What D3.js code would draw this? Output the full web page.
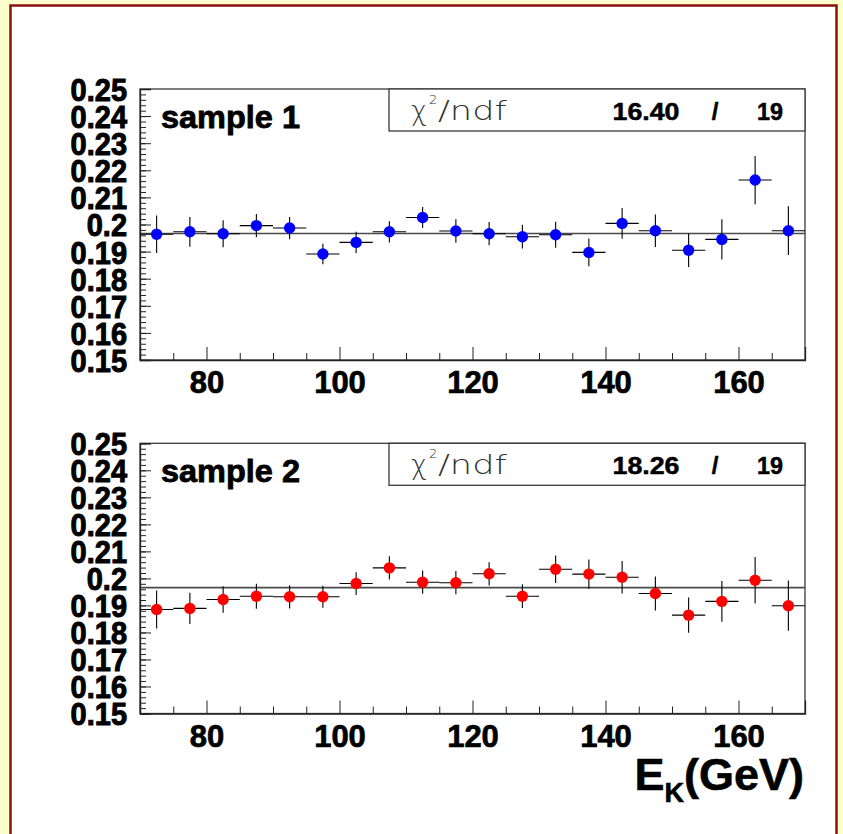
<!DOCTYPE html>
<html>
<head>
<meta charset="utf-8">
<script src="https://cdn.jsdelivr.net/npm/d3@7"></script>
<style>
  html, body { margin: 0; padding: 0; background: #ffffcc; }
  svg { display: block; }
  text { font-family: "Liberation Sans", Arial, Helvetica, sans-serif; }
</style>
</head>
<body>
<svg id="chart" width="843" height="834"></svg>
<script>
// ---------------- data ----------------
const binCenters = [72.5, 77.5, 82.5, 87.5, 92.5, 97.5, 102.5, 107.5, 112.5, 117.5,
                    122.5, 127.5, 132.5, 137.5, 142.5, 147.5, 152.5, 157.5, 162.5, 167.5];
const binHalfWidth = 2.5;

const sample1Values = [0.1964, 0.1973, 0.1966, 0.1996, 0.1987, 0.1891, 0.1934, 0.1973, 0.2026, 0.1976,
                       0.1966, 0.1955, 0.1962, 0.1897, 0.2004, 0.1977, 0.1905, 0.1945, 0.2164, 0.1977];
const sample1Errors = [0.0069, 0.0055, 0.0050, 0.0043, 0.0041, 0.0038, 0.0039, 0.0039, 0.0039, 0.0043,
                       0.0043, 0.0044, 0.0048, 0.0051, 0.0057, 0.0060, 0.0062, 0.0074, 0.0089, 0.0090];
const sample2Values = [0.1885, 0.1889, 0.1922, 0.1934, 0.1932, 0.1932, 0.1981, 0.2039, 0.1986, 0.1984,
                       0.2017, 0.1934, 0.2034, 0.2016, 0.2004, 0.1944, 0.1864, 0.1915, 0.1993, 0.1899];
const sample2Errors = [0.0070, 0.0058, 0.0049, 0.0046, 0.0043, 0.0041, 0.0042, 0.0043, 0.0043, 0.0043,
                       0.0043, 0.0044, 0.0051, 0.0054, 0.0060, 0.0063, 0.0065, 0.0075, 0.0086, 0.0093];
const fitValues = [0.1967, 0.1966];
const sampleNames = ["sample 1", "sample 2"];
const chi2Values = ["16.40", "18.26"];
const ndfValues = ["19", "19"];
const markerColors = ["#0000ff", "#ff0000"];

const xDomain = [70, 170];
const yDomain = [0.15, 0.25];
const xMajorTicks = [80, 100, 120, 140, 160];
const xMinorTicks = [75, 85, 90, 95, 105, 110, 115, 125, 130, 135, 145, 150, 155, 165];
const yMajorTicks = [0.15, 0.16, 0.17, 0.18, 0.19, 0.2, 0.21, 0.22, 0.23, 0.24, 0.25];
const yTickLabels = ["0.15", "0.16", "0.17", "0.18", "0.19", "0.2", "0.21", "0.22", "0.23", "0.24", "0.25"];
const xTickLabels = ["80", "100", "120", "140", "160"];
const xAxisTitle = {main: "E", sub: "K", rest: "(GeV)"};

// ---------------- layout ----------------
const svg = d3.select("#chart");
const W = 843, H = 834;

svg.append("rect").attr("x", 0).attr("y", 0).attr("width", W).attr("height", H).attr("fill", "#ffffcc");
svg.append("rect").attr("x", 10.5).attr("y", 5.5).attr("width", 826).attr("height", 840)
   .attr("fill", "#ffffff").attr("stroke", "#8b1010").attr("stroke-width", 2.5);

const left = 140, right = 805;
const panels = [
  {top: 89, bottom: 360, values: sample1Values, errors: sample1Errors},
  {top: 443.3, bottom: 713.5, values: sample2Values, errors: sample2Errors}
];

const x = d3.scaleLinear().domain(xDomain).range([left, right]);

function heavy(sel, w) {
  return sel.attr("stroke", "#000").attr("stroke-width", w).attr("paint-order", "stroke");
}

panels.forEach((p, i) => {
  const y = d3.scaleLinear().domain(yDomain).range([p.bottom, p.top]);
  const g = svg.append("g");

  // frame
  g.append("rect").attr("x", left).attr("y", p.top)
   .attr("width", right - left).attr("height", p.bottom - p.top)
   .attr("fill", "#ffffff").attr("stroke", "#3a3a3a").attr("stroke-width", 1.3);

  // fit line
  g.append("line")
   .attr("x1", x(xDomain[0])).attr("x2", x(xDomain[1]))
   .attr("y1", y(fitValues[i])).attr("y2", y(fitValues[i]))
   .attr("stroke", "#4a4a4a").attr("stroke-width", 1.6);

  // y axis
  const yMinor = d3.range(0, 51).map(k => +(0.15 + k * 0.002).toFixed(3));
  const yAxMinor = g.append("g").attr("transform", `translate(${left},0)`)
    .call(d3.axisRight(y).tickValues(yMinor).tickSize(6).tickFormat(""));
  yAxMinor.select(".domain").remove();
  yAxMinor.selectAll("line").attr("stroke", "#222").attr("stroke-width", 1);

  const yAx = g.append("g").attr("transform", `translate(${left},0)`)
    .call(d3.axisRight(y).tickValues(yMajorTicks).tickSize(11)
          .tickFormat((d, k) => yTickLabels[k]));
  yAx.select(".domain").attr("stroke", "#222").attr("stroke-width", 1.3);
  yAx.selectAll("line").attr("stroke", "#222").attr("stroke-width", 1);
  heavy(yAx.selectAll("text")
     .attr("x", -13).attr("y", 0).attr("dy", "0.36em")
     .attr("transform", "scale(1,1.1)")
     .attr("text-anchor", "end")
     .style("font-size", "29px").style("font-weight", "bold").attr("fill", "#000"), 0.9);

  // x axis
  const xAxMinor = g.append("g").attr("transform", `translate(0,${p.bottom})`)
    .call(d3.axisTop(x).tickValues(xMinorTicks).tickSize(7).tickFormat(""));
  xAxMinor.select(".domain").remove();
  xAxMinor.selectAll("line").attr("stroke", "#222").attr("stroke-width", 1);

  const xAx = g.append("g").attr("transform", `translate(0,${p.bottom})`)
    .call(d3.axisTop(x).tickValues(xMajorTicks).tickSize(13)
          .tickFormat((d, k) => xTickLabels[k]));
  xAx.select(".domain").attr("stroke", "#222").attr("stroke-width", 1.3);
  xAx.selectAll("line").attr("stroke", "#222").attr("stroke-width", 1);
  heavy(xAx.selectAll("text")
     .attr("y", 33).attr("dy", 0)
     .attr("text-anchor", "middle")
     .style("font-size", "31px").style("font-weight", "bold").attr("fill", "#000"), 0.7);

  // data: error bars and markers
  const pts = binCenters.map((c, k) => ({c, v: p.values[k], e: p.errors[k]}));
  const eg = g.append("g");
  eg.selectAll("line.h").data(pts).join("line").attr("class", "h")
    .attr("x1", d => x(d.c - binHalfWidth)).attr("x2", d => x(d.c + binHalfWidth))
    .attr("y1", d => y(d.v)).attr("y2", d => y(d.v))
    .attr("stroke", "#000").attr("stroke-width", 1.1);
  eg.selectAll("line.v").data(pts).join("line").attr("class", "v")
    .attr("x1", d => x(d.c)).attr("x2", d => x(d.c))
    .attr("y1", d => y(d.v - d.e)).attr("y2", d => y(d.v + d.e))
    .attr("stroke", "#000").attr("stroke-width", 1.1);
  eg.selectAll("circle").data(pts).join("circle")
    .attr("cx", d => x(d.c)).attr("cy", d => y(d.v)).attr("r", 5.7)
    .attr("fill", markerColors[i]);

  // sample label
  heavy(g.append("text").attr("x", 161).attr("y", p.top + 38.5)
   .style("font-size", "32px").style("font-weight", "bold").attr("fill", "#000")
   .attr("textLength", 139).attr("lengthAdjust", "spacingAndGlyphs")
   .text(sampleNames[i]), 0.8);

  // stats box
  g.append("rect").attr("x", 389).attr("y", p.top)
   .attr("width", right - 389).attr("height", 42)
   .attr("fill", "#ffffff").attr("stroke", "#3a3a3a").attr("stroke-width", 1.3);
  const lightFont = "'DejaVu Sans', sans-serif";
  g.append("text").attr("x", 411).attr("y", p.top + 31)
   .style("font-family", lightFont).style("font-weight", "200")
   .style("font-size", "27px").attr("fill", "#333").text("\u03c7");
  g.append("text").attr("x", 429).attr("y", p.top + 15)
   .style("font-family", lightFont).style("font-weight", "200")
   .style("font-size", "13px").attr("fill", "#333").text("2");
  g.append("text").attr("x", 438).attr("y", p.top + 31)
   .style("font-family", lightFont).style("font-weight", "200")
   .style("font-size", "27px").attr("fill", "#333")
   .attr("textLength", 69).attr("lengthAdjust", "spacingAndGlyphs")
   .text("/ndf");

  heavy(g.append("text").attr("x", 679.5).attr("y", p.top + 31).attr("text-anchor", "end")
   .style("font-size", "24px").style("font-weight", "bold")
   .attr("textLength", 67).attr("lengthAdjust", "spacingAndGlyphs")
   .text(chi2Values[i]), 0.5);
  heavy(g.append("text").attr("x", 715).attr("y", p.top + 31).attr("text-anchor", "middle")
   .style("font-size", "24px").style("font-weight", "bold").text("/"), 0.5);
  heavy(g.append("text").attr("x", 783).attr("y", p.top + 31).attr("text-anchor", "end")
   .style("font-size", "24px").style("font-weight", "bold")
   .attr("textLength", 26).attr("lengthAdjust", "spacingAndGlyphs")
   .text(ndfValues[i]), 0.5);
});

// x-axis title
const t = svg.append("text").attr("x", 804).attr("y", 790).attr("text-anchor", "end")
  .style("font-size", "45px").style("font-weight", "bold").attr("fill", "#000");
heavy(t, 0.6);
t.append("tspan").text(xAxisTitle.main);
t.append("tspan").attr("dy", 12).style("font-size", "27px").text(xAxisTitle.sub);
t.append("tspan").attr("dy", -12).text(xAxisTitle.rest);
</script>
</body>
</html>
